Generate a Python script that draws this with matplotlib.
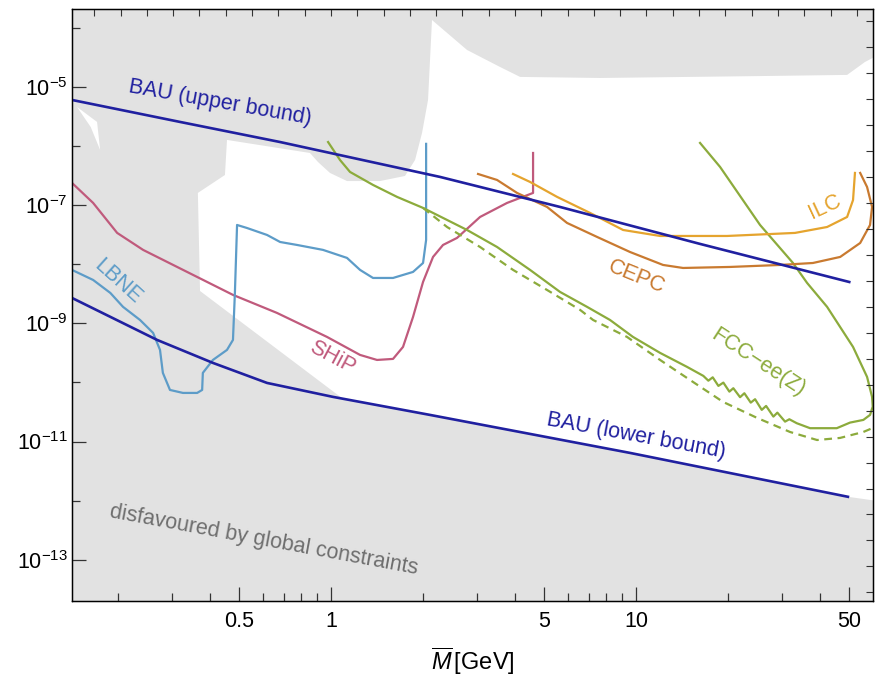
import numpy as np
import matplotlib
matplotlib.use("Agg")
import matplotlib.pyplot as plt
from matplotlib.ticker import NullFormatter

plt.rcParams['font.family'] = ['Liberation Sans', 'DejaVu Sans']
plt.rcParams['mathtext.fontset'] = 'custom'
plt.rcParams['mathtext.rm'] = 'Liberation Sans'
plt.rcParams['mathtext.it'] = 'Liberation Sans:italic'

# --- data (mass in GeV, mixing U^2) ---
bau_up_m = [0.1415, 0.320, 0.681, 2.28, 5.63, 16.2, 50.0]
bau_up_u = [6.03e-6, 2.56e-6, 1.17e-6, 3.00e-7, 9.33e-8, 2.21e-8, 5.01e-9]

bau_lo_m = [0.1415, 0.269, 0.410, 0.617, 1.015, 2.11, 9.56, 49.5]
bau_lo_u = [2.69e-9, 5.24e-10, 2.14e-10, 9.8e-11, 5.69e-11, 2.82e-11, 6.41e-12, 1.16e-12]

ship_m = [0.1415, 0.166, 0.199, 0.242, 0.313, 0.477, 0.665, 0.970, 1.245, 1.415,
          1.597, 1.722, 1.857, 2.003, 2.160, 2.329, 2.589, 3.08, 3.776, 4.596, 4.596]
ship_u = [2.38e-7, 1.09e-7, 3.39e-8, 1.75e-8, 9.0e-9, 3.03e-9, 1.50e-9, 5.89e-10, 2.92e-10, 2.40e-10,
          2.50e-10, 3.99e-10, 1.28e-9, 5.02e-9, 1.33e-8, 2.12e-8, 2.79e-8, 6.31e-8, 1.09e-7, 1.61e-7, 7.64e-7]

lbne_m = [0.1415, 0.166, 0.189, 0.208, 0.2365, 0.261, 0.275, 0.281, 0.2965, 0.327, 0.364,
          0.378, 0.380, 0.410, 0.456, 0.477, 0.484, 0.492, 0.530, 0.617, 0.681, 0.774,
          0.941, 1.128, 1.245, 1.373, 1.597, 1.857, 2.003, 2.05, 2.05]
lbne_u = [8.02e-9, 5.42e-9, 3.27e-9, 1.90e-9, 1.14e-9, 6.89e-10, 3.55e-10, 1.45e-10, 7.46e-11, 6.64e-11, 6.64e-11,
          7.46e-11, 1.45e-10, 2.40e-10, 3.55e-10, 5.24e-10, 3.27e-9, 4.62e-8, 4.11e-8, 3.13e-8, 2.38e-8, 2.12e-8,
          1.75e-8, 1.28e-8, 8.02e-9, 5.86e-9, 5.86e-9, 7.41e-9, 1.05e-8, 2.58e-8, 1.09e-6]

fcc_m = [0.978, 1.070, 1.154, 1.373, 1.646, 2.003, 2.401, 2.792, 3.502, 4.493, 5.634, 6.908,
         8.216, 9.77, 11.99, 14.70, 16.62, 17.26, 17.84, 18.62, 19.33, 20.23, 20.84, 21.93,
         22.65, 23.77, 24.56, 25.83, 26.69, 28.20, 29.06, 30.80, 31.81, 33.64, 37.20, 45.50,
         50.30, 55.62, 58.5, 59.7, 59.4, 57.2, 51.45, 42.3, 36.37, 32.7, 25.5, 18.86, 16.21]
fcc_u = [1.17e-6, 5.82e-7, 3.65e-7, 2.20e-7, 1.38e-7, 8.98e-8, 5.62e-8, 3.80e-8, 1.96e-8, 8.02e-9, 3.40e-9, 1.90e-9,
         1.14e-9, 5.89e-10, 3.16e-10, 1.83e-10, 1.29e-10, 1.07e-10, 1.22e-10, 8.73e-11, 9.93e-11, 6.98e-11, 7.98e-11, 5.62e-11,
         6.56e-11, 4.55e-11, 5.20e-11, 3.43e-11, 4.00e-11, 2.64e-11, 3.08e-11, 2.17e-11, 2.38e-11, 2.04e-11, 1.68e-11, 1.68e-11,
         2.09e-11, 2.32e-11, 2.82e-11, 3.90e-11, 5.69e-11, 1.24e-10, 3.99e-10, 1.90e-9, 4.83e-9, 1.05e-8, 4.62e-8, 4.43e-7, 1.13e-6]

fcc_dash_m = [2.003, 2.401, 3.08, 3.951, 5.107, 6.553, 7.23, 9.34, 11.99, 15.03, 19.29,
              24.93, 31.98, 39.21, 46.66, 55.6, 59.8]
fcc_dash_u = [8.98e-8, 4.27e-8, 1.96e-8, 8.02e-9, 3.67e-9, 1.69e-9, 1.14e-9, 5.89e-10, 2.40e-10, 1.10e-10, 4.68e-11,
              2.51e-11, 1.45e-11, 1.06e-11, 1.15e-11, 1.45e-11, 1.70e-11]

cepc_m = [3.034, 3.502, 4.073, 5.107, 5.94, 7.45, 9.56, 12.26, 14.26, 20.33, 29.7,
          38.0, 46.7, 54.3, 58.5, 59.4, 57.2, 54.3]
cepc_u = [3.37e-7, 2.67e-7, 1.61e-7, 9.33e-8, 5.0e-8, 2.90e-8, 1.61e-8, 9.73e-9, 8.65e-9, 9.0e-9, 9.73e-9,
          1.05e-8, 1.33e-8, 2.29e-8, 4.62e-8, 9.33e-8, 2.03e-7, 3.51e-7]

ilc_m = [3.951, 4.493, 5.51, 7.07, 9.07, 11.99, 19.88, 33.2, 42.3, 49.2, 51.45, 52.2]
ilc_u = [3.37e-7, 2.47e-7, 1.38e-7, 7.38e-8, 3.80e-8, 3.01e-8, 3.01e-8, 3.39e-8, 4.27e-8, 6.31e-8, 1.22e-7, 3.51e-7]

# allowed (white) region, everything else is disfavoured (grey)
allowed_m = [2.143, 2.792, 3.582, 4.167, 7.62, 25.5, 49.2, 56.3, 70.0, 70.0, 49.5, 9.56, 2.11,
             1.095, 0.372, 0.366, 0.449, 0.456, 0.853, 0.906, 0.992, 1.128, 1.448, 1.748,
             1.886, 1.988, 2.080]
allowed_u = [1.36e-4, 4.23e-5, 2.18e-5, 1.48e-5, 1.42e-5, 1.53e-5, 1.60e-5, 2.65e-5, 4.75e-5, 9.0e-13,
             1.16e-12, 6.41e-12, 2.82e-11, 5.26e-11, 3.53e-9, 1.61e-7, 3.24e-7, 1.27e-6, 7.64e-7, 5.38e-7,
             3.51e-7, 2.56e-7, 2.56e-7, 3.12e-7, 5.82e-7, 1.67e-6, 6.03e-6]
sliver_m = [0.147, 0.171, 0.175, 0.163]
sliver_u = [4.59e-6, 2.56e-6, 8.59e-7, 2.10e-6]

c_bau = '#2020a0'
c_ship = '#c05a7c'
c_lbne = '#5d9cc8'
c_fcc = '#8cab3c'
c_ilc = '#e5a42e'
c_cepc = '#c97a30'
c_grey = '#e2e2e2'

fig = plt.figure(figsize=(8.8, 6.8), dpi=100)
ax = fig.add_axes([0.0818, 0.1162, 0.9102, 0.8706])
ax.set_facecolor(c_grey)
ax.set_xscale('log')
ax.set_yscale('log')

ax.fill(allowed_m, allowed_u, color='white', lw=0, zorder=0.5)
ax.fill(sliver_m, sliver_u, color='white', lw=0, zorder=0.5)

ax.plot(bau_up_m, bau_up_u, color=c_bau, lw=1.9, zorder=3)
ax.plot(bau_lo_m, bau_lo_u, color=c_bau, lw=1.9, zorder=3)
ax.plot(ship_m, ship_u, color=c_ship, lw=1.6, zorder=2)
ax.plot(lbne_m, lbne_u, color=c_lbne, lw=1.6, zorder=2)
ax.plot(fcc_m, fcc_u, color=c_fcc, lw=1.6, zorder=2)
ax.plot(fcc_dash_m, fcc_dash_u, color=c_fcc, lw=1.6, ls=(0, (3.5, 2.5)), zorder=2)
ax.plot(cepc_m, cepc_u, color=c_cepc, lw=1.6, zorder=2)
ax.plot(ilc_m, ilc_u, color=c_ilc, lw=1.6, zorder=2)

kw = dict(ha='center', va='center', rotation_mode='anchor', fontsize=15.5, zorder=4)
ax.text(0.433, 5.36e-6, 'BAU (upper bound)', color=c_bau, rotation=-10, **kw)
ax.text(10.0, 1.24e-11, 'BAU (lower bound)', color=c_bau, rotation=-10.4, **kw)
ax.text(0.200, 5.02e-9, 'LBNE', color=c_lbne, rotation=-42, **kw)
ax.text(1.008, 2.60e-10, 'SHiP', color=c_ship, rotation=-28, **kw)
ax.text(10.0, 6.10e-9, 'CEPC', color=c_cepc, rotation=-22, **kw)
ax.text(41.67, 9.33e-8, 'ILC', color=c_ilc, rotation=25, **kw)
ax.text(25.1, 2.14e-10, 'FCC\u2212ee(Z)', color=c_fcc, rotation=-33, **kw)
ax.text(0.603, 2.16e-13, 'disfavoured by global constraints', color='#6e6e6e',
        rotation=-10.5, **kw)

ax.set_xlim(0.1415, 59.8)
ax.set_ylim(2.0e-14, 2.09e-4)

ax.set_xticks([0.5, 1, 5, 10, 50])
ax.set_xticklabels(['0.5', '1', '5', '10', '50'])
ax.set_xticks([0.2, 0.3, 0.4, 0.6, 0.7, 0.8, 0.9, 2, 3, 4, 6, 7, 8, 9, 20, 30, 40], minor=True)
ax.xaxis.set_minor_formatter(NullFormatter())
ax.set_yticks([1e-13, 1e-11, 1e-9, 1e-7, 1e-5])
ax.set_yticklabels([r'$10^{-13}$', r'$10^{-11}$', r'$10^{-9}$', r'$10^{-7}$', r'$10^{-5}$'])
ax.set_yticks([1e-12, 1e-10, 1e-8, 1e-6, 1e-4], minor=True)
ax.yaxis.set_minor_formatter(NullFormatter())
ax.tick_params(which='both', direction='in', top=False, right=False, color='#333333', labelsize=15.5)
ax.tick_params(which='major', length=10, width=0.9)
ax.tick_params(which='minor', length=6, width=0.9)
ax.tick_params(axis='x', pad=7)
ax.tick_params(axis='y', pad=3)
for s in ax.spines.values():
    s.set_color('#333333')
    s.set_linewidth(1.0)

ax.set_xlabel(r'$\overline{M}\,$[GeV]', fontsize=17, labelpad=10)

# plain frame ticks on the top and right edges
ax_t = ax.twiny()
ax_t.set_xlim(0, 1)
ax_t.set_xticks(np.arange(0.0278, 1.0, 0.03283))
ax_t.tick_params(axis='x', direction='in', length=5, width=0.8, labeltop=False, color='#333333')
ax_r = ax.twinx()
ax_r.set_ylim(0, 1)
ax_r.set_yticks(1 - np.arange(0.0198, 1.0, 0.0439))
ax_r.tick_params(axis='y', direction='in', length=5, width=0.8, labelright=False, color='#333333')

fig.savefig('out.png', dpi=100)
